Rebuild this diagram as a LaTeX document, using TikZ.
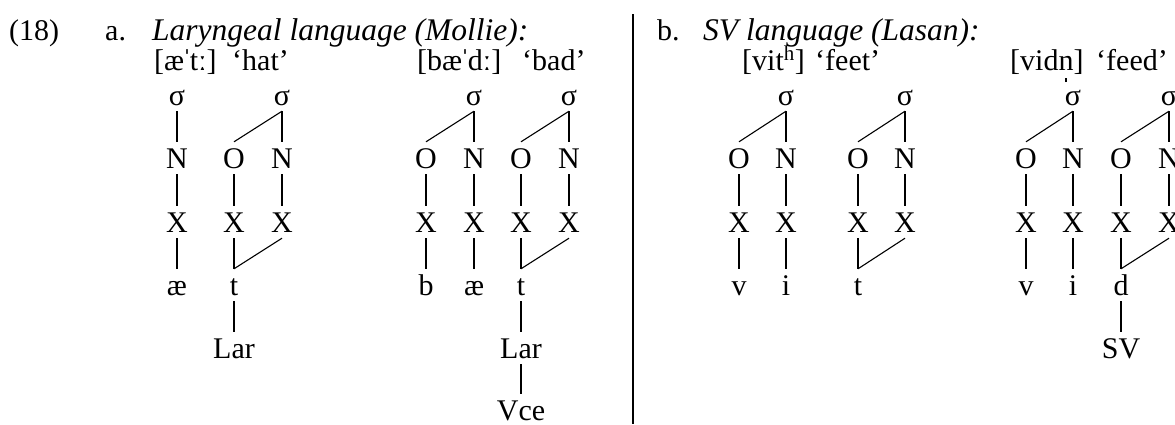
\documentclass[tikz,border=0pt]{standalone}
\usepackage{fontspec}
\setmainfont{Liberation Serif}
% syllabic n: n with a small stroke below
\newcommand{\sylln}{\makebox[0pt][l]{\hspace{0.23em}\rule[-0.40em]{0.04em}{0.14em}}n}
% tight primary-stress mark
\newcommand{\strs}{\kern-0.07em ˈ\kern-0.07em}
\begin{document}
\begin{tikzpicture}[x=1pt,y=-1pt,
  every node/.style={font=\fontsize{30}{36}\selectfont, inner sep=0pt},
  lab/.style={anchor=base, text height=26pt, text depth=6pt},
  txt/.style={anchor=base west},
  head/.style={anchor=base west, font=\fontsize{31.5}{36}\selectfont\itshape},
  br/.style={line width=1.1pt}]
\useasboundingbox (0,0) rectangle (1175,424);

% ---- headings ----
\node[txt] (ex)   at (9,40)   {(18)};
\node[txt] (la)   at (105,40) {a.};
\node[head] (lat) at (152,40) {Laryngeal language (Mollie):};
\node[txt] (lb)   at (657,40) {b.};
\node[head] (lbt) at (703,40) {SV language (Lasan):};

\node[txt] (f1) at (154,70)  {[æ\strs tː]};
\node[txt] (g1) at (232,70)  {‘hat’};
\node[txt] (f2) at (417,70)  {[bæ\strs dː]};
\node[txt] (g2) at (522,70)  {‘bad’};
\node[txt] (f3) at (742,70)  {[vit\textsuperscript{h}]};
\node[txt] (g3) at (815,70)  {‘feet’};
\node[txt] (f4) at (1010,70) {[vid\sylln]};
\node[txt] (g4) at (1096,70) {‘feed’};

% ---- divider ----
\coordinate (divtop) at (633,14);
\coordinate (divbot) at (633,424);
\draw[br] (divtop) -- (divbot);

% ---- tree 1: hat ----
\node[lab] (as1) at (177,105) {σ};
\node[lab] (as2) at (282,105) {σ};
\node[lab] (an1) at (177,168) {N};
\node[lab] (ao2) at (234,168) {O};
\node[lab] (an2) at (282,168) {N};
\node[lab] (ax1) at (177,232) {X};
\node[lab] (ax2) at (234,232) {X};
\node[lab] (ax3) at (282,232) {X};
\node[lab] (aae) at (177,295) {æ};
\node[lab] (at)  at (234,295) {t};
\node[lab] (alar) at (234,358) {Lar};
\draw[br] (as1.south) -- (an1.north);
\draw[br] (as2.south) -- (ao2.north);
\draw[br] (as2.south) -- (an2.north);
\draw[br] (an1.south) -- (ax1.north);
\draw[br] (ao2.south) -- (ax2.north);
\draw[br] (an2.south) -- (ax3.north);
\draw[br] (ax1.south) -- (aae.north);
\draw[br] (ax2.south) -- (at.north);
\draw[br] (ax3.south) -- (at.north);
\draw[br] (at.south) -- (alar.north);

% ---- tree 2: bad ----
\node[lab] (bs1) at (474,105) {σ};
\node[lab] (bs2) at (569,105) {σ};
\node[lab] (bo1) at (426,168) {O};
\node[lab] (bn1) at (474,168) {N};
\node[lab] (bo2) at (521,168) {O};
\node[lab] (bn2) at (569,168) {N};
\node[lab] (bx1) at (426,232) {X};
\node[lab] (bx2) at (474,232) {X};
\node[lab] (bx3) at (521,232) {X};
\node[lab] (bx4) at (569,232) {X};
\node[lab] (bb)  at (426,295) {b};
\node[lab] (bae) at (474,295) {æ};
\node[lab] (bt)  at (521,295) {t};
\node[lab] (blar) at (521,358) {Lar};
\node[lab] (bvce) at (521,420) {Vce};
\draw[br] (bs1.south) -- (bo1.north);
\draw[br] (bs1.south) -- (bn1.north);
\draw[br] (bs2.south) -- (bo2.north);
\draw[br] (bs2.south) -- (bn2.north);
\draw[br] (bo1.south) -- (bx1.north);
\draw[br] (bn1.south) -- (bx2.north);
\draw[br] (bo2.south) -- (bx3.north);
\draw[br] (bn2.south) -- (bx4.north);
\draw[br] (bx1.south) -- (bb.north);
\draw[br] (bx2.south) -- (bae.north);
\draw[br] (bx3.south) -- (bt.north);
\draw[br] (bx4.south) -- (bt.north);
\draw[br] (bt.south) -- (blar.north);
\draw[br] (blar.south) -- (bvce.north);

% ---- tree 3: feet ----
\node[lab] (cs1) at (786,105) {σ};
\node[lab] (cs2) at (905,105) {σ};
\node[lab] (co1) at (739,168) {O};
\node[lab] (cn1) at (786,168) {N};
\node[lab] (co2) at (858,168) {O};
\node[lab] (cn2) at (905,168) {N};
\node[lab] (cx1) at (739,232) {X};
\node[lab] (cx2) at (786,232) {X};
\node[lab] (cx3) at (858,232) {X};
\node[lab] (cx4) at (905,232) {X};
\node[lab] (cv)  at (739,295) {v};
\node[lab] (ci)  at (786,295) {i};
\node[lab] (ct)  at (858,295) {t};
\draw[br] (cs1.south) -- (co1.north);
\draw[br] (cs1.south) -- (cn1.north);
\draw[br] (cs2.south) -- (co2.north);
\draw[br] (cs2.south) -- (cn2.north);
\draw[br] (co1.south) -- (cx1.north);
\draw[br] (cn1.south) -- (cx2.north);
\draw[br] (co2.south) -- (cx3.north);
\draw[br] (cn2.south) -- (cx4.north);
\draw[br] (cx1.south) -- (cv.north);
\draw[br] (cx2.south) -- (ci.north);
\draw[br] (cx3.south) -- (ct.north);
\draw[br] (cx4.south) -- (ct.north);

% ---- tree 4: feed ----
\node[lab] (ds1) at (1073,105) {σ};
\node[lab] (ds2) at (1169,105) {σ};
\node[lab] (do1) at (1026,168) {O};
\node[lab] (dn1) at (1073,168) {N};
\node[lab] (do2) at (1121,168) {O};
\node[lab] (dn2) at (1169,168) {N};
\node[lab] (dx1) at (1026,232) {X};
\node[lab] (dx2) at (1073,232) {X};
\node[lab] (dx3) at (1121,232) {X};
\node[lab] (dx4) at (1169,232) {X};
\node[lab] (dv)  at (1026,295) {v};
\node[lab] (di)  at (1073,295) {i};
\node[lab] (dd)  at (1121,295) {d};
\node[lab] (dsv) at (1121,358) {SV};
\draw[br] (ds1.south) -- (do1.north);
\draw[br] (ds1.south) -- (dn1.north);
\draw[br] (ds2.south) -- (do2.north);
\draw[br] (ds2.south) -- (dn2.north);
\draw[br] (do1.south) -- (dx1.north);
\draw[br] (dn1.south) -- (dx2.north);
\draw[br] (do2.south) -- (dx3.north);
\draw[br] (dn2.south) -- (dx4.north);
\draw[br] (dx1.south) -- (dv.north);
\draw[br] (dx2.south) -- (di.north);
\draw[br] (dx3.south) -- (dd.north);
\draw[br] (dx4.south) -- (dd.north);
\draw[br] (dd.south) -- (dsv.north);
\end{tikzpicture}
\end{document}
